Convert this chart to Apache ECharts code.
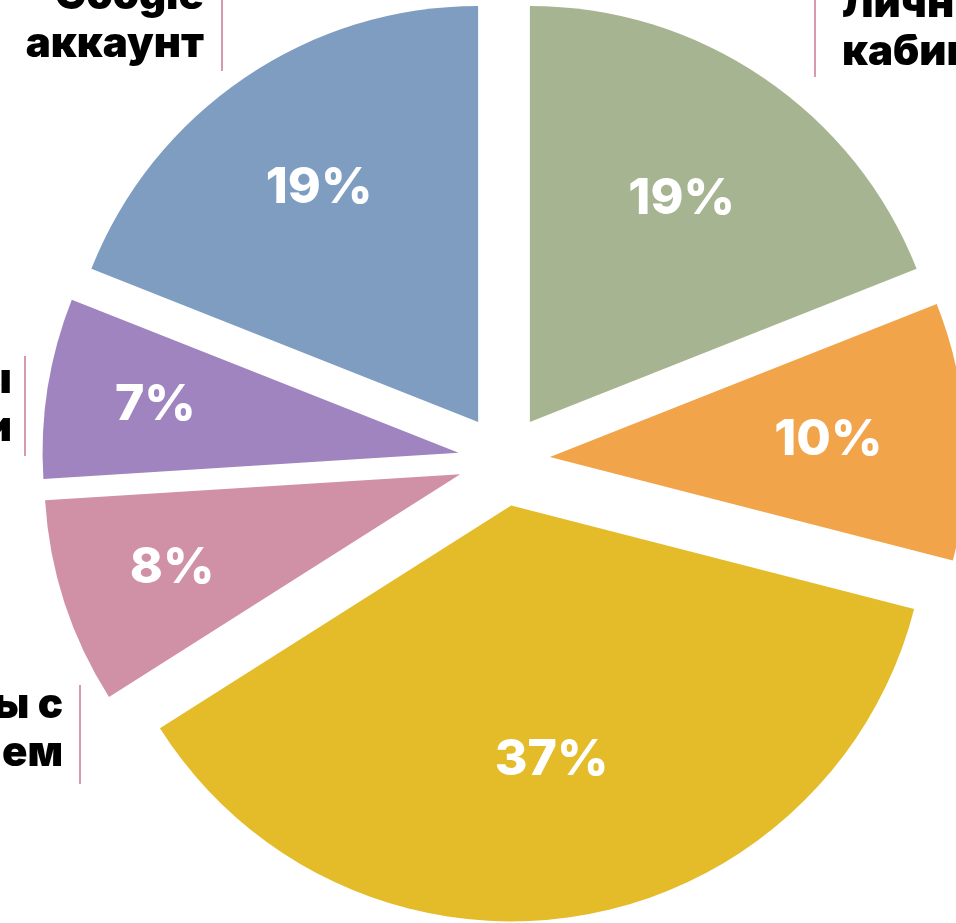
<!DOCTYPE html>
<html>
<head>
<meta charset="utf-8">
<script src="https://cdn.jsdelivr.net/npm/echarts@6/dist/echarts.min.js"></script>
<style>
  html, body { margin: 0; padding: 0; background: #fff; }
  #main { width: 956px; height: 923px; }
</style>
</head>
<body>
<div id="main"></div>
<script>
var names = ['Личный\nкабинет', 'Мобильное\nприложение', 'Звонки\nоператору', 'Переговоры с\nпредставителем', 'Мессенджеры\nсоцсети', 'Google\nаккаунт'];
var values = [19, 10, 37, 8, 7, 19];
var colors = ['#A7B491', '#F1A449', '#E4BB29', '#D090A6', '#9F84C0', '#7F9DC1'];

// where the name labels sit (clipped by the frame like in the picture)
var nameSpots = [
    { x: 842, y: -20, align: 'left', line: [815, 0, 77] },
    null,
    null,
    { x: 63, y: 681, align: 'right', line: [80, 685, 784] },
    { x: 12, y: 356, align: 'right', line: [25, 356, 456] },
    { x: 204, y: -28, align: 'right', line: [222, 0, 71] }
];
// distance of each percent label from its slice tip
var pctRadius = [267, 276, 255, 300, 304, 280];

var cx = 504, cy = 460, explode = 46, R = 416;

var chartDom = document.getElementById('main');
var myChart = echarts.init(chartDom);
var option;

var graphics = [];
nameSpots.forEach(function (s, i) {
    if (!s) return;
    graphics.push({
        type: 'text', z: 100,
        style: {
            text: names[i], x: s.x, y: s.y, align: s.align, verticalAlign: 'top',
            font: '900 42px Inter', lineHeight: 48, fill: '#000'
        }
    });
    graphics.push({
        type: 'line', z: 100,
        shape: { x1: s.line[0], y1: s.line[1], x2: s.line[0], y2: s.line[2] },
        style: { stroke: '#D59AB0', lineWidth: 2 }
    });
});

var series = [
    {
        type: 'pie',
        z: 2,
        center: [cx, cy],
        radius: R,
        startAngle: 90,
        clockwise: true,
        silent: true,
        selectedMode: 'multiple',
        selectedOffset: explode,
        select: { itemStyle: { borderWidth: 0 } },
        label: { show: false },
        labelLine: { show: false },
        data: names.map(function (n, i) {
            return { name: n, value: values[i], selected: true, itemStyle: { color: colors[i] } };
        })
    }
];

// one transparent ring per percent label, so each sits at its own distance
pctRadius.forEach(function (r, k) {
    var mid = explode + r;
    series.push({
        type: 'pie',
        z: 10,
        center: [cx, cy],
        radius: [mid - 40, mid + 40],
        startAngle: 90,
        clockwise: true,
        silent: true,
        itemStyle: { color: 'rgba(0,0,0,0)' },
        label: {
            show: false,
            position: 'inside',
            formatter: '{d}%',
            color: '#fff',
            fontFamily: 'Inter',
            fontWeight: 800,
            fontSize: 50
        },
        labelLine: { show: false },
        data: names.map(function (n, i) {
            return { name: n, value: values[i], label: { show: i === k } };
        })
    });
});

option = {
    animation: false,
    series: series,
    graphic: graphics
};

option && myChart.setOption(option);
window.onresize = function () {
    myChart.resize();
};
</script>
</body>
</html>
